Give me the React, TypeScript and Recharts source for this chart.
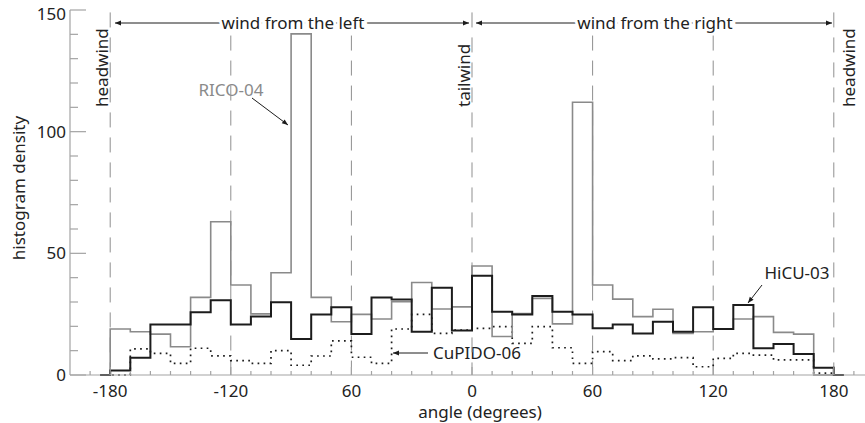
import { Line, LineChart, ReferenceLine, XAxis, YAxis } from "recharts";

// histogram bin centres (deg); the outer half-bins close the step outline
const binCenters = [
  -185, -175, -165, -155, -145, -135, -125, -115, -105, -95, -85, -75, -65, -55, -45, -35, -25, -15, -5,
  5, 15, 25, 35, 45, 55, 65, 75, 85, 95, 105, 115, 125, 135, 145, 155, 165, 175, 185,
];

const rico04 = [
  0, 18.9, 17.8, 16.8, 11.6, 31.9, 63.0, 37.0, 25.1, 42.0, 140.2, 31.9, 21.9, 24.9, 23.0, 30.1, 38.0, 27.1, 28.0,
  44.8, 15.8, 25.3, 31.5, 21.0, 112.1, 37.0, 31.2, 24.0, 27.0, 17.1, 17.8, 18.8, 23.0, 24.0, 17.5, 16.8, 0, 0,
];

const hicu03 = [
  0, 1.8, 7.1, 20.8, 20.8, 25.8, 30.7, 20.8, 24.0, 29.9, 14.8, 24.9, 27.8, 16.8, 31.9, 31.0, 17.8, 35.9, 18.3,
  40.8, 26.0, 24.9, 32.5, 26.0, 24.9, 19.2, 20.8, 17.1, 21.9, 17.8, 27.8, 18.9, 28.8, 11.0, 12.7, 8.6, 3.0, 0,
];

const cupido06 = [
  0, 0, 10.7, 8.9, 4.8, 11.0, 7.9, 5.9, 4.8, 10.0, 4.0, 7.8, 14.0, 7.3, 4.8, 18.9, 24.9, 17.1, 18.5,
  19.2, 19.9, 13.0, 19.9, 11.2, 4.8, 9.6, 5.9, 7.9, 6.6, 7.1, 3.4, 6.8, 8.9, 8.2, 6.2, 6.2, 0.8, 0,
];

const xMajorTicks = [-180, -120, -60, 0, 60, 120, 180];
const xTickLabels = ["-180", "-120", "60", "0", "60", "120", "180"];
const xMinorTicks = Array.from({ length: 39 }, (_, i) => -190 + i * 10);
const yMajorTicks = [0, 50, 100, 150];
const yTickLabels = ["0", "50", "100", "150"];
const yMinorTicks = Array.from({ length: 16 }, (_, i) => i * 10);

const data = binCenters.map((angle, i) => ({
  angle,
  rico: rico04[i],
  hicu: hicu03[i],
  cupido: cupido06[i],
}));

const FONT = "'Noto Sans', 'Open Sans', sans-serif";
const FRAME = "#a3a3a3";
const GREY = "#8a8a8a";
const INK = "#1c1c1c";

// plot box in px, used for the hand-placed annotations
const LEFT = 70;
const RIGHT = 874;
const TOP = 10;
const BOTTOM = 375;
const px = (deg: number) => LEFT + ((deg + 200) / 400) * (RIGHT - LEFT);

function BottomTick({ x, y, payload }: any) {
  const i = xMajorTicks.indexOf(payload.value);
  return (
    <g>
      <line x1={x} x2={x} y1={y} y2={y - (i >= 0 ? 8 : 4)} stroke={FRAME} strokeWidth={1.2} />
      {i >= 0 && (
        <text x={x} y={y + 22} textAnchor="middle" fontSize={17} fontFamily={FONT} fill="#222">
          {xTickLabels[i]}
        </text>
      )}
    </g>
  );
}

function TopTick({ x, y, payload }: any) {
  const major = xMajorTicks.includes(payload.value);
  return <line x1={x} x2={x} y1={y} y2={y + (major ? 8 : 4)} stroke={FRAME} strokeWidth={1.2} />;
}

function LeftTick({ x, y, payload }: any) {
  const i = yMajorTicks.indexOf(payload.value);
  // the top label sits a little lower so it stays on the page
  const baseline = payload.value === 150 ? y + 10 : y + 6;
  return (
    <g>
      <line x1={x} x2={x + (i >= 0 ? 16 : 8)} y1={y} y2={y} stroke={FRAME} strokeWidth={1.2} />
      {i >= 0 && (
        <text x={x - 4} y={baseline} textAnchor="end" fontSize={17} fontFamily={FONT} fill="#222">
          {yTickLabels[i]}
        </text>
      )}
    </g>
  );
}

function RightTick({ x, y, payload }: any) {
  const major = yMajorTicks.includes(payload.value);
  return <line x1={x} x2={x - (major ? 16 : 8)} y1={y} y2={y} stroke={FRAME} strokeWidth={1.2} />;
}

const textProps = { fontSize: 17, fontFamily: FONT, fill: "#222" };
const masked = { stroke: "#fff", strokeWidth: 6, paintOrder: "stroke" as const };

function Annotations() {
  return (
    <g>
      <defs>
        <marker id="tip" viewBox="0 0 10 10" refX="10" refY="5" markerWidth="7" markerHeight="6" orient="auto-start-reverse">
          <path d="M0,1 L10,5 L0,9 z" fill={INK} />
        </marker>
      </defs>

      {/* wind direction arrows along the top */}
      <line x1={115} x2={469} y1={23} y2={23} stroke={INK} strokeWidth={1} markerStart="url(#tip)" markerEnd="url(#tip)" />
      <line x1={476} x2={832} y1={23} y2={23} stroke={INK} strokeWidth={1} markerStart="url(#tip)" markerEnd="url(#tip)" />
      <text x={293} y={29} textAnchor="middle" {...textProps} {...masked}>
        wind from the left
      </text>
      <text x={655} y={29} textAnchor="middle" {...textProps} {...masked}>
        wind from the right
      </text>

      {/* vertical direction labels */}
      {[
        { x: 101, t: "headwind" },
        { x: 463, t: "tailwind" },
        { x: 848, t: "headwind" },
      ].map((d) => (
        <text
          key={d.x}
          x={d.x}
          y={107}
          transform={`rotate(-90 ${d.x} 107)`}
          dominantBaseline="central"
          {...textProps}
        >
          {d.t}
        </text>
      ))}

      {/* series call-outs */}
      <text x={231} y={96} textAnchor="middle" {...textProps} fill={GREY}>
        RICO-04
      </text>
      <line x1={252} y1={98} x2={288} y2={125} stroke={INK} strokeWidth={1} markerEnd="url(#tip)" />

      <text x={797} y={279} textAnchor="middle" {...textProps}>
        HiCU-03
      </text>
      <line x1={762} y1={285} x2={748} y2={303} stroke={INK} strokeWidth={1} markerEnd="url(#tip)" />

      <text x={433} y={359} {...textProps}>
        CuPIDO-06
      </text>
      <line x1={428} y1={353} x2={393} y2={353} stroke={INK} strokeWidth={1} markerEnd="url(#tip)" />

      {/* axis titles */}
      <text x={18} y={188} transform="rotate(-90 18 188)" textAnchor="middle" dominantBaseline="central" {...textProps}>
        histogram density
      </text>
      <text x={px(4)} y={418} textAnchor="middle" {...textProps}>
        angle (degrees)
      </text>
    </g>
  );
}

const dashedAt = [
  { x: -180, top: 149 },
  { x: -120, top: 139.5 },
  { x: -60, top: 139.5 },
  { x: 0, top: 149 },
  { x: 60, top: 139.5 },
  { x: 120, top: 139.5 },
  { x: 180, top: 149 },
];

export default function App() {
  return (
    <div style={{ position: "fixed", left: 0, top: 0, width: 865, height: 423, overflow: "hidden", background: "#fff" }}>
      <LineChart width={880} height={423} data={data} margin={{ top: TOP, right: 0, bottom: 0, left: 0 }}>
        <XAxis
          xAxisId="bottom"
          dataKey="angle"
          type="number"
          domain={[-200, 200]}
          ticks={xMinorTicks}
          interval={0}
          tick={<BottomTick />}
          tickLine={false}
          tickSize={0}
          tickMargin={0}
          height={423 - BOTTOM}
          axisLine={{ stroke: FRAME, strokeWidth: 1.2 }}
        />
        <XAxis
          xAxisId="top"
          orientation="top"
          dataKey="angle"
          type="number"
          domain={[-200, 200]}
          ticks={xMinorTicks}
          interval={0}
          tick={<TopTick />}
          tickLine={false}
          tickSize={0}
          tickMargin={0}
          height={0}
          axisLine={{ stroke: FRAME, strokeWidth: 1.2 }}
        />
        <YAxis
          yAxisId="left"
          type="number"
          domain={[0, 150]}
          ticks={yMinorTicks}
          interval={0}
          tick={<LeftTick />}
          tickLine={false}
          tickSize={0}
          tickMargin={0}
          width={LEFT}
          axisLine={{ stroke: FRAME, strokeWidth: 1.2 }}
        />
        <YAxis
          yAxisId="right"
          orientation="right"
          type="number"
          domain={[0, 150]}
          ticks={yMinorTicks}
          interval={0}
          tick={<RightTick />}
          tickLine={false}
          tickSize={0}
          tickMargin={0}
          width={880 - RIGHT}
          axisLine={{ stroke: FRAME, strokeWidth: 1.2 }}
        />

        {dashedAt.map((d) => (
          <ReferenceLine
            key={d.x}
            xAxisId="bottom"
            yAxisId="left"
            segment={[
              { x: d.x, y: d.top },
              { x: d.x, y: 0 },
            ]}
            stroke="#8f8f8f"
            strokeWidth={1}
            strokeDasharray="15 10"
          />
        ))}

        <Line
          xAxisId="bottom"
          yAxisId="left"
          dataKey="cupido"
          type="step"
          stroke={INK}
          strokeWidth={1.7}
          strokeDasharray="1.7 4.3"
          dot={false}
          isAnimationActive={false}
        />
        <Line
          xAxisId="bottom"
          yAxisId="left"
          dataKey="rico"
          type="step"
          stroke={GREY}
          strokeWidth={1.6}
          dot={false}
          isAnimationActive={false}
        />
        <Line
          xAxisId="bottom"
          yAxisId="left"
          dataKey="hicu"
          type="step"
          stroke={INK}
          strokeWidth={2}
          dot={false}
          isAnimationActive={false}
        />

        <Annotations />
      </LineChart>
    </div>
  );
}
